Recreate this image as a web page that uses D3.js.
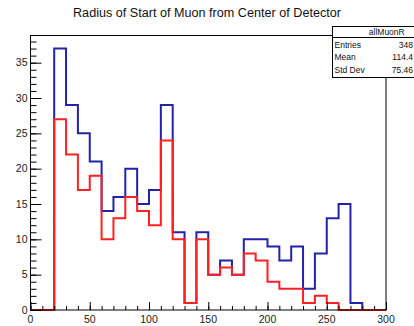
<!DOCTYPE html>
<html>
<head>
<meta charset="utf-8">
<script src="https://cdn.jsdelivr.net/npm/d3@7/dist/d3.min.js"></script>
<style>
  html, body { margin: 0; padding: 0; background: #fff; }
  svg { display: block; }
  text { font-family: "Liberation Sans", Arial, Helvetica, sans-serif; }
</style>
</head>
<body>
<div id="chart"></div>
<script>
// Histogram bins: lower edge of each 10-unit bin from 0 to 300
const binLow = [0, 10, 20, 30, 40, 50, 60, 70, 80, 90,
                100, 110, 120, 130, 140, 150, 160, 170, 180, 190,
                200, 210, 220, 230, 240, 250, 260, 270, 280, 290];
const binWidth = 10;

// All muons (blue)
const allMuonR = [0, 0, 37, 29, 25, 21, 14, 16, 20, 15,
                  17, 29, 11, 1, 11, 5, 7, 5, 10, 10,
                  9, 7, 9, 3, 8, 13, 15, 1, 0, 0];
// Selected subset (red)
const subMuonR = [0, 0, 27, 22, 17, 19, 10, 13, 16, 14,
                  12, 24, 10, 1, 10, 5, 6, 5, 8, 7,
                  4, 3, 3, 1, 2, 1, 0, 0, 0, 0];

const xMajorTicks = [0, 50, 100, 150, 200, 250, 300];
const yMajorTicks = [0, 5, 10, 15, 20, 25, 30, 35];

const titleText = "Radius of Start of Muon from Center of Detector";
const statsName = "allMuonR";
const statsRows = [["Entries", "348"], ["Mean", "114.4"], ["Std Dev", "75.46"]];

const W = 414, H = 326;
const frame = { left: 30.5, right: 386, top: 35.5, bottom: 310 };

const xMax = 300;
const yMax = d3.max(allMuonR) * 1.05;

const x = d3.scaleLinear().domain([0, xMax]).range([frame.left, frame.right]);
const y = d3.scaleLinear().domain([0, yMax]).range([frame.bottom, frame.top]);

const svg = d3.select("#chart").append("svg")
  .attr("width", W).attr("height", H);

// Title
svg.append("text")
  .attr("x", 207).attr("y", 17)
  .attr("text-anchor", "middle")
  .attr("font-size", 12.5)
  .attr("textLength", 268)
  .attr("lengthAdjust", "spacingAndGlyphs")
  .attr("fill", "#111")
  .text(titleText);

// Histogram outlines as step lines
function stepPoints(vals) {
  const pts = binLow.map((b, i) => [b, vals[i]]);
  pts.push([binLow[binLow.length - 1] + binWidth, vals[vals.length - 1]]);
  return pts;
}
const line = d3.line()
  .x(d => x(d[0]))
  .y(d => y(d[1]))
  .curve(d3.curveStepAfter);

svg.append("path")
  .datum(stepPoints(allMuonR))
  .attr("d", line)
  .attr("fill", "none")
  .attr("stroke", "#2222aa")
  .attr("stroke-width", 2);

svg.append("path")
  .datum(stepPoints(subMuonR))
  .attr("d", line)
  .attr("fill", "none")
  .attr("stroke", "#ff2020")
  .attr("stroke-width", 2);

// Frame box
svg.append("rect")
  .attr("x", frame.left).attr("y", frame.top)
  .attr("width", frame.right - frame.left)
  .attr("height", frame.bottom - frame.top)
  .attr("fill", "none").attr("stroke", "#000").attr("stroke-width", 1);

// X axis: ticks point up into the frame
const xAxisG = svg.append("g");
xAxisG.append("g")
  .attr("transform", `translate(0,${frame.bottom})`)
  .call(d3.axisTop(x).tickValues(d3.range(0, xMax + 1, 10)).tickSize(4).tickFormat(""))
  .call(g => g.select(".domain").remove());
xAxisG.append("g")
  .attr("transform", `translate(0,${frame.bottom})`)
  .call(d3.axisTop(x).tickValues(xMajorTicks).tickSize(8).tickFormat(""))
  .call(g => g.select(".domain").remove());
xAxisG.selectAll("line").attr("stroke", "#000");
svg.append("g").selectAll("text")
  .data(xMajorTicks).join("text")
  .attr("x", d => x(d)).attr("y", frame.bottom + 13)
  .attr("text-anchor", "middle")
  .attr("font-size", 10.5)
  .attr("fill", "#222")
  .text(d => d);

// Y axis: ticks point right into the frame
const yMinor = d3.range(0, Math.floor(yMax) + 1, 1);
const yAxisG = svg.append("g");
yAxisG.append("g")
  .attr("transform", `translate(${frame.left},0)`)
  .call(d3.axisRight(y).tickValues(yMinor).tickSize(6).tickFormat(""))
  .call(g => g.select(".domain").remove());
yAxisG.append("g")
  .attr("transform", `translate(${frame.left},0)`)
  .call(d3.axisRight(y).tickValues(yMajorTicks).tickSize(11).tickFormat(""))
  .call(g => g.select(".domain").remove());
yAxisG.selectAll("line").attr("stroke", "#000");
svg.append("g").selectAll("text")
  .data(yMajorTicks).join("text")
  .attr("x", frame.left - 3).attr("y", d => y(d) + 3.7)
  .attr("text-anchor", "end")
  .attr("font-size", 10.5)
  .attr("fill", "#222")
  .text(d => d);

// Statistics box
const sb = { left: 332.5, top: 26.5, sep: 37.5, bottom: 77.5, right: 441 };
const stats = svg.append("g");
stats.append("rect")
  .attr("x", sb.left).attr("y", sb.top)
  .attr("width", sb.right - sb.left).attr("height", sb.bottom - sb.top)
  .attr("fill", "#fff").attr("stroke", "#000").attr("stroke-width", 1);
stats.append("line")
  .attr("x1", sb.left).attr("x2", sb.right)
  .attr("y1", sb.sep).attr("y2", sb.sep)
  .attr("stroke", "#000");
stats.append("text")
  .attr("x", (sb.left + sb.right) / 2).attr("y", 35)
  .attr("text-anchor", "middle")
  .attr("font-size", 8.5).attr("fill", "#111")
  .text(statsName);
statsRows.forEach((r, i) => {
  const yy = 47.5 + i * 12.5;
  stats.append("text")
    .attr("x", sb.left + 2).attr("y", yy)
    .attr("font-size", 8.5).attr("fill", "#111")
    .text(r[0]);
  stats.append("text")
    .attr("x", 413).attr("y", yy)
    .attr("text-anchor", "end")
    .attr("font-size", 8.5).attr("fill", "#111")
    .text(r[1]);
});
</script>
</body>
</html>
